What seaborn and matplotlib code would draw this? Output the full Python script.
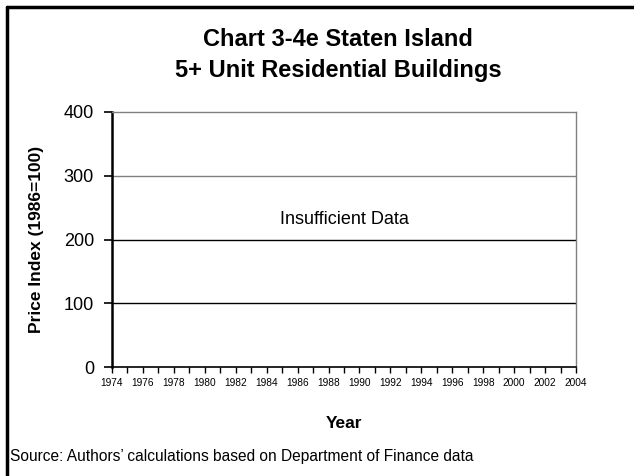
import pandas as pd
import matplotlib.pyplot as plt
import seaborn as sns
from matplotlib.lines import Line2D
from matplotlib.ticker import MultipleLocator

# Data (the source chart has no observations for this series)
years = []
price_index = []
year_ticks = [1974, 1976, 1978, 1980, 1982, 1984, 1986, 1988, 1990,
              1992, 1994, 1996, 1998, 2000, 2002, 2004]
index_ticks = [0, 100, 200, 300, 400]

sns.set_theme(style="white")
plt.rcParams['font.family'] = ['Liberation Sans', 'DejaVu Sans']
plt.rcParams['text.color'] = 'black'
plt.rcParams['axes.labelcolor'] = 'black'
plt.rcParams['xtick.color'] = 'black'
plt.rcParams['ytick.color'] = 'black'

df = pd.DataFrame({'Year': pd.Series(years, dtype=float),
                   'Index': pd.Series(price_index, dtype=float)})

fig = plt.figure(figsize=(6.34, 4.76), dpi=100)
ax = fig.add_axes([112 / 634, 1 - 367 / 476, 464 / 634, 255 / 476])
sns.lineplot(data=df, x='Year', y='Index', ax=ax, color='black')

ax.set_xlim(year_ticks[0], year_ticks[-1])
ax.set_ylim(index_ticks[0], index_ticks[-1])
ax.set_xticks(year_ticks)
ax.set_xticklabels([str(y) for y in year_ticks], fontsize=7.3, stretch='condensed')
ax.xaxis.set_minor_locator(MultipleLocator(1))
ax.set_yticks(index_ticks)
ax.set_yticklabels([str(v) for v in index_ticks], fontsize=13)

ax.tick_params(axis='x', which='both', direction='out', length=4, width=1,
               color='black', bottom=True, pad=4)
ax.tick_params(axis='y', which='major', direction='out', length=6, width=1.2,
               color='black', left=True, pad=7)

# horizontal gridlines
ax.yaxis.grid(True, linewidth=1)
grid_colors = ['none', 'black', 'black', '#808080', 'none']
for gl, c in zip(ax.get_ygridlines(), grid_colors):
    gl.set_color(c)

for side in ['top', 'right']:
    ax.spines[side].set_color('#808080')
    ax.spines[side].set_linewidth(1)
ax.spines['left'].set_color('black')
ax.spines['left'].set_linewidth(1.8)
ax.spines['bottom'].set_color('black')
ax.spines['bottom'].set_linewidth(1.2)

ax.set_xlabel('Year', fontsize=12.5, fontweight='bold', labelpad=20)
ax.set_ylabel('Price Index (1986=100)', fontsize=12.5, fontweight='bold', labelpad=14)

ax.text(1989, 232, 'Insufficient Data', fontsize=13, ha='center', va='center')

fig.text(338 / 634, 1 - 40 / 476, 'Chart 3-4e Staten Island', fontsize=17,
         fontweight='bold', ha='center', va='center')
fig.text(338 / 634, 1 - 71 / 476, '5+ Unit Residential Buildings', fontsize=17,
         fontweight='bold', ha='center', va='center')
fig.text(10 / 634, 1 - 457 / 476,
         'Source: Authors\u2019 calculations based on Department of Finance data',
         fontsize=11.2, ha='left', va='center')

# page border (top and left)
fig.add_artist(Line2D([7 / 634, 1], [1 - 7 / 476, 1 - 7 / 476],
                      color='black', linewidth=2.5, transform=fig.transFigure))
fig.add_artist(Line2D([7 / 634, 7 / 634], [0, 1 - 7 / 476],
                      color='black', linewidth=2.5, transform=fig.transFigure))

fig.savefig('out.png', dpi=100, facecolor='white')
